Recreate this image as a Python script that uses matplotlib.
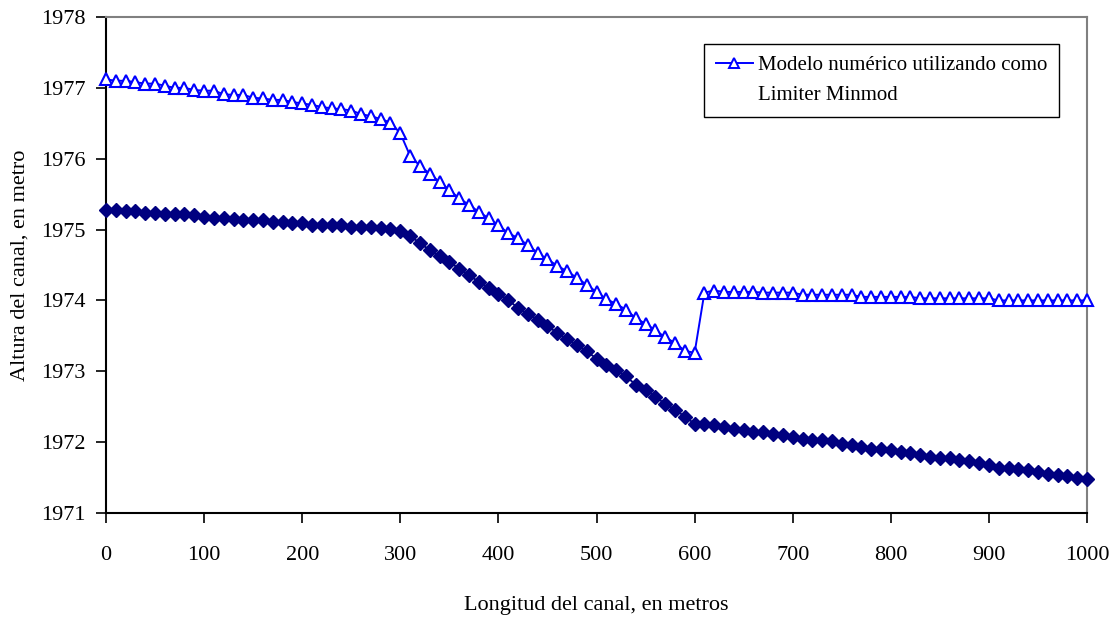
import matplotlib
matplotlib.use("Agg")
import matplotlib.pyplot as plt
from matplotlib.lines import Line2D

# ---------------------------------------------------------------------
# DATA
# ---------------------------------------------------------------------

distance_m = list(range(0, 1010, 10))

# Modelo numerico, limiter Minmod (open triangles)
minmod_level = [
    1977.12, 1977.10, 1977.10, 1977.08, 1977.06, 1977.06, 1977.03, 1977.00, 1977.00, 1976.97,
    1976.96, 1976.96, 1976.91, 1976.90, 1976.90, 1976.86, 1976.85, 1976.83, 1976.83, 1976.80,
    1976.78, 1976.76, 1976.73, 1976.71, 1976.70, 1976.68, 1976.63, 1976.60, 1976.56, 1976.51,
    1976.36, 1976.04, 1975.90, 1975.79, 1975.67, 1975.56, 1975.44, 1975.35, 1975.25, 1975.16,
    1975.06, 1974.95, 1974.88, 1974.78, 1974.67, 1974.58, 1974.49, 1974.41, 1974.32, 1974.22,
    1974.12, 1974.02, 1973.95, 1973.87, 1973.75, 1973.67, 1973.58, 1973.48, 1973.40, 1973.29,
    1973.26,
    1974.11, 1974.14, 1974.12, 1974.12, 1974.12, 1974.12, 1974.11, 1974.11, 1974.11, 1974.11,
    1974.08, 1974.08, 1974.08, 1974.08, 1974.08, 1974.08,
    1974.05, 1974.05, 1974.05, 1974.05, 1974.05, 1974.05,
    1974.03, 1974.03, 1974.03, 1974.03, 1974.03, 1974.03, 1974.03, 1974.03,
    1974.00, 1974.00, 1974.00, 1974.00, 1974.00, 1974.00, 1974.00, 1974.00, 1974.00, 1974.00,
]

# fondo del canal (filled diamonds)
bed_level = [
    1975.28, 1975.28, 1975.26, 1975.26, 1975.24, 1975.24, 1975.22, 1975.22, 1975.22, 1975.20,
    1975.18, 1975.17, 1975.17, 1975.15, 1975.14, 1975.14, 1975.13, 1975.11, 1975.11, 1975.09,
    1975.09, 1975.07, 1975.06, 1975.06, 1975.06, 1975.04, 1975.04, 1975.03, 1975.02, 1975.01,
    1974.98, 1974.91, 1974.81, 1974.71, 1974.62, 1974.54, 1974.45, 1974.36, 1974.26, 1974.18,
    1974.09, 1974.01, 1973.89, 1973.81, 1973.73, 1973.64, 1973.54, 1973.45, 1973.37, 1973.28,
    1973.18, 1973.09, 1973.02, 1972.93, 1972.81, 1972.74, 1972.64, 1972.54, 1972.46, 1972.36,
    1972.26, 1972.26, 1972.24, 1972.22, 1972.19, 1972.17, 1972.14, 1972.14, 1972.12, 1972.10,
    1972.07, 1972.05, 1972.03, 1972.03, 1972.01, 1971.98, 1971.96, 1971.93, 1971.91, 1971.91,
    1971.89, 1971.86, 1971.84, 1971.82, 1971.79, 1971.77, 1971.77, 1971.75, 1971.73, 1971.70,
    1971.68, 1971.64, 1971.64, 1971.62, 1971.61, 1971.58, 1971.55, 1971.54, 1971.52, 1971.49,
    1971.48,
]

x_ticks = [0, 100, 200, 300, 400, 500, 600, 700, 800, 900, 1000]
y_ticks = [1971, 1972, 1973, 1974, 1975, 1976, 1977, 1978]

LEGEND_LINES = ["Modelo numérico utilizando como", "Limiter Minmod"]
X_LABEL = "Longitud del canal, en metros"
Y_LABEL = "Altura del canal, en metro"

FONT_SIZE = 16
LEGEND_FONT_SIZE = 15
BLUE = "#0000FF"
NAVY = "#000080"

plt.rcParams["font.family"] = ["Liberation Serif", "DejaVu Serif"]
plt.rcParams["font.size"] = FONT_SIZE


def main() -> None:
    fig = plt.figure(figsize=(11.17, 6.22), dpi=100)
    ax = fig.add_axes([106 / 1117, 1 - 513 / 622, (1087 - 106) / 1117, (513 - 17) / 622])

    ax.plot(distance_m, bed_level, '-', color=NAVY, linewidth=1.4,
            marker='D', markersize=6.8, markerfacecolor=NAVY, markeredgecolor=NAVY,
            clip_on=False, zorder=3)
    ax.plot(distance_m, minmod_level, '-', color=BLUE, linewidth=1.4,
            marker='^', markersize=8.5, markerfacecolor='white',
            markeredgecolor=BLUE, markeredgewidth=1.5, clip_on=False, zorder=3)

    ax.set_xlim(0, 1000)
    ax.set_ylim(1971, 1978)
    ax.set_xticks(x_ticks)
    ax.set_yticks(y_ticks)
    ax.tick_params(axis='x', direction='out', length=7, width=1.2, pad=17)
    ax.tick_params(axis='y', direction='out', length=7, width=1.2, pad=8)

    for side in ('left', 'bottom'):
        ax.spines[side].set_color('black')
        ax.spines[side].set_linewidth(1.5)
    for side in ('top', 'right'):
        ax.spines[side].set_color('#808080')
        ax.spines[side].set_linewidth(1.5)

    ax.set_xlabel(X_LABEL, labelpad=22)
    ax.set_ylabel(Y_LABEL, labelpad=8)

    handles = [
        Line2D([], [], color=BLUE, linewidth=1.4, marker='^', markersize=6.5,
               markerfacecolor='white', markeredgecolor=BLUE, markeredgewidth=1.4),
        Line2D([], [], linestyle='none', marker=None),
    ]
    leg = fig.legend(handles, LEGEND_LINES, loc='upper left',
                     bbox_to_anchor=(704 / 1117, 1 - 44 / 622),
                     frameon=True, fancybox=False, shadow=False,
                     edgecolor='black', framealpha=1.0,
                     handlelength=1.8, handletextpad=0.25, labelspacing=0.5,
                     borderpad=0.56, borderaxespad=0.0, fontsize=LEGEND_FONT_SIZE)
    leg.get_frame().set_linewidth(1.0)

    fig.savefig('out.png', dpi=100)
    plt.close(fig)


if __name__ == '__main__':
    main()
